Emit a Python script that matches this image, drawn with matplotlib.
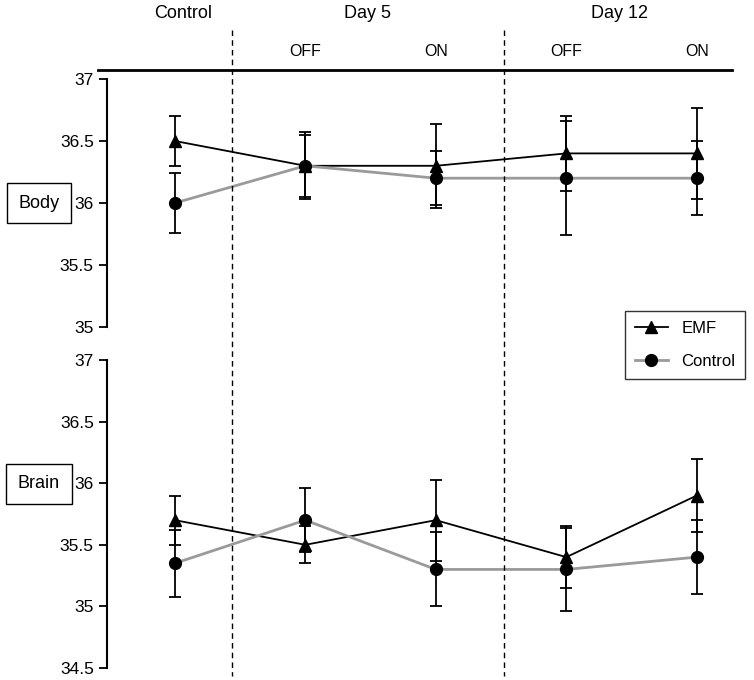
import matplotlib
matplotlib.use('Agg')
import matplotlib.pyplot as plt
from matplotlib.lines import Line2D
from matplotlib.transforms import blended_transform_factory

plt.rcParams['font.family'] = ['Liberation Sans', 'DejaVu Sans']

# x positions: Control, Day 5 OFF, Day 5 ON, Day 12 OFF, Day 12 ON
groups = ['Control', 'Day 5', 'Day 12']
sub_labels = ['', 'OFF', 'ON', 'OFF', 'ON']
x = [0, 1, 2, 3, 4]

body_emf = [36.5, 36.3, 36.3, 36.4, 36.4]
body_emf_err = [0.2, 0.27, 0.34, 0.3, 0.37]
body_ctl = [36.0, 36.3, 36.2, 36.2, 36.2]
body_ctl_err = [0.24, 0.25, 0.22, 0.46, 0.3]

brain_emf = [35.7, 35.5, 35.7, 35.4, 35.9]
brain_emf_err = [0.2, 0.15, 0.33, 0.25, 0.3]
brain_ctl = [35.35, 35.7, 35.3, 35.3, 35.4]
brain_ctl_err = [0.27, 0.26, 0.3, 0.34, 0.3]

W, H = 754, 680
fig = plt.figure(figsize=(W / 100, H / 100), dpi=100)

def px_axes(x0, y0, x1, y1):
    return fig.add_axes([x0 / W, 1 - y1 / H, (x1 - x0) / W, (y1 - y0) / H])

ax1 = px_axes(107, 79, 749, 327)
ax2 = px_axes(107, 360, 749, 668)

def draw(ax, emf, emf_err, ctl, ctl_err, ylim, ticks):
    ax.errorbar(x, emf, yerr=emf_err, color='black', lw=1.3, marker='^', ms=8,
                ecolor='black', elinewidth=1.3, capsize=4, capthick=1.3, zorder=3)
    ax.errorbar(x, ctl, yerr=ctl_err, color='#9a9a9a', lw=2, marker='o', ms=8.5,
                mfc='black', mec='black', ecolor='black', elinewidth=1.3,
                capsize=4, capthick=1.3, zorder=4)
    ax.set_xlim(-0.52, 4.4)
    ax.set_ylim(*ylim)
    ax.set_yticks(ticks)
    ax.set_yticklabels([f'{t:g}' for t in ticks])
    ax.set_xticks([])
    for s in ['top', 'right', 'bottom']:
        ax.spines[s].set_visible(False)
    ax.spines['left'].set_linewidth(1.5)
    ax.tick_params(axis='y', direction='out', length=6, width=1.3, labelsize=12.5)
    ax.patch.set_visible(False)

draw(ax1, body_emf, body_emf_err, body_ctl, body_ctl_err, (35, 37), [35, 35.5, 36, 36.5, 37])
draw(ax2, brain_emf, brain_emf_err, brain_ctl, brain_ctl_err, (34.5, 37),
     [34.5, 35, 35.5, 36, 36.5, 37])

# dashed separators spanning the whole figure height
tr = blended_transform_factory(ax1.transData, fig.transFigure)
for xv in [0.44, 2.52]:
    fig.add_artist(Line2D([xv, xv], [1 - 30 / H, 1 - 676 / H], transform=tr,
                          color='black', lw=1, ls=(0, (4, 3))))

# header line and labels
fig.add_artist(Line2D([98 / W, 732 / W], [1 - 70 / H, 1 - 70 / H],
                      transform=fig.transFigure, color='black', lw=2))
for gx, g in zip([0.06, 1.48, 3.41], groups):
    fig.text(gx, 1 - 14 / H, g, transform=tr, ha='center', va='center', fontsize=13)
for xv, s in zip(x, sub_labels):
    if s:
        fig.text(xv, 1 - 52 / H, s, transform=tr, ha='center', va='center', fontsize=11.5)

# panel labels in boxes
for yc, lab in [(203, 'Body'), (484, 'Brain')]:
    fig.text(39 / W, 1 - yc / H, lab, ha='center', va='center', fontsize=13,
             bbox=dict(boxstyle='square,pad=0.65', fc='white', ec='black', lw=1))

handles = [Line2D([], [], color='black', lw=1.3, marker='^', ms=8),
           Line2D([], [], color='#9a9a9a', lw=2, marker='o', ms=8.5, mfc='black', mec='black')]
fig.legend(handles, ['EMF', 'Control'], loc='center',
           bbox_to_anchor=(685 / W, 1 - 345 / H), fontsize=12, frameon=True,
           fancybox=False, edgecolor='black', handlelength=2.0, labelspacing=1.1,
           borderpad=0.6).get_frame().set_linewidth(1)

fig.savefig('out.png', dpi=100)
